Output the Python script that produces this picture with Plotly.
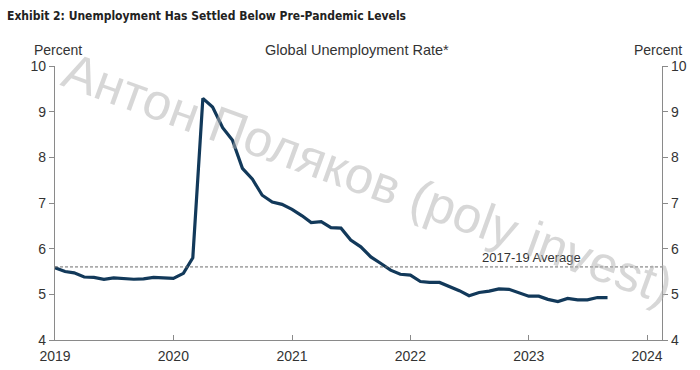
import plotly.graph_objects as go
import pandas as pd

# ---- data ----
start_month = "2019-01-01"
rate = [
    5.58, 5.50, 5.47, 5.38, 5.37, 5.33, 5.36, 5.35, 5.33, 5.34, 5.37, 5.36,
    5.35, 5.46, 5.80, 9.29, 9.10, 8.65, 8.38, 7.76, 7.52, 7.17, 7.02, 6.97,
    6.86, 6.72, 6.57, 6.59, 6.46, 6.45, 6.19, 6.04, 5.82, 5.68, 5.53, 5.44,
    5.42, 5.28, 5.26, 5.26, 5.18, 5.08, 4.97, 5.04, 5.07, 5.12, 5.11, 5.04,
    4.96, 4.96, 4.89, 4.84, 4.91, 4.88, 4.88, 4.93, 4.93,
]
avg_2017_19 = 5.6
x_range = ["2019-01-01", "2024-02-16"]
y_range = [4, 10]
y_ticks = [4, 5, 6, 7, 8, 9, 10]
year_ticks = ["2019-01-01", "2020-01-01", "2021-01-01", "2022-01-01", "2023-01-01", "2024-01-01"]
year_labels = ["2019", "2020", "2021", "2022", "2023", "2024"]

title_text = "Exhibit 2: Unemployment Has Settled Below Pre-Pandemic Levels"
chart_title = "Global Unemployment Rate*"
unit_label = "Percent"
avg_label = "2017-19 Average"
watermark = "Антон Поляков (poly invest)"

dates = pd.date_range(start_month, periods=len(rate), freq="MS")

FONT = "Arial, Liberation Sans, sans-serif"
TXT = "#333333"
AX = "#8a8a8a"

fig = go.Figure()

fig.add_trace(go.Scatter(
    x=x_range, y=[avg_2017_19, avg_2017_19], mode="lines",
    line=dict(color="#6e6e6e", width=1, dash="3px,2px"),
    yaxis="y2", showlegend=False, hoverinfo="skip",
))
fig.add_trace(go.Scatter(
    x=dates, y=rate, mode="lines",
    line=dict(color="#12395a", width=3.2),
    showlegend=False,
))

axis_common = dict(
    range=y_range, tickvals=y_ticks, showgrid=False, zeroline=False,
    showline=True, linecolor=AX, linewidth=1.2, ticks="outside", automargin=False,
    ticklen=5, tickcolor=AX, tickfont=dict(family=FONT, size=14, color=TXT),
)

fig.update_layout(
    width=700, height=370,
    margin=dict(l=55, r=38, t=66, b=30),
    paper_bgcolor="white", plot_bgcolor="white",
    xaxis=dict(
        type="date", range=x_range, tickvals=year_ticks, ticktext=year_labels,
        showgrid=False, zeroline=False, showline=True, linecolor=AX, linewidth=1.2,
        ticks="inside", ticklen=5, tickcolor=AX, ticklabelstandoff=3, automargin=False,
        tickfont=dict(family=FONT, size=14, color=TXT),
    ),
    yaxis=dict(side="left", **axis_common),
    yaxis2=dict(side="right", overlaying="y", **axis_common),
    annotations=[
        dict(text="<b>" + title_text + "</b>", xref="paper", yref="paper",
             x=-50 / 610, y=1 + 50 / 274, xanchor="left", yanchor="middle",
             showarrow=False,
             font=dict(family="Liberation Sans Narrow, DejaVu Sans Condensed, Arial Narrow, sans-serif",
                       size=12, color="#222222")),
        dict(text=unit_label, xref="paper", yref="paper", x=-23 / 607, y=1 + 16 / 274,
             xanchor="left", yanchor="middle", showarrow=False,
             font=dict(family=FONT, size=14, color=TXT)),
        dict(text=unit_label, xref="paper", yref="paper", x=1 + 22 / 607, y=1 + 16 / 274,
             xanchor="right", yanchor="middle", showarrow=False,
             font=dict(family=FONT, size=14, color=TXT)),
        dict(text=chart_title, xref="paper", yref="paper", x=(357 - 55) / 607, y=1 + 16 / 274,
             xanchor="center", yanchor="middle", showarrow=False,
             font=dict(family=FONT, size=14.5, color=TXT)),
        dict(text=avg_label, xref="paper", yref="paper", x=(531 - 55) / 607, y=(340 - 257) / 274,
             xanchor="center", yanchor="middle", showarrow=False,
             font=dict(family=FONT, size=13, color=TXT)),
        dict(text=watermark, xref="paper", yref="paper", x=(368 - 55) / 607, y=(340 - 178) / 274,
             xanchor="center", yanchor="middle", showarrow=False, textangle=20,
             font=dict(family=FONT, size=51, color="rgba(175,175,175,0.5)")),
    ],
)

fig.write_html("out.html")
